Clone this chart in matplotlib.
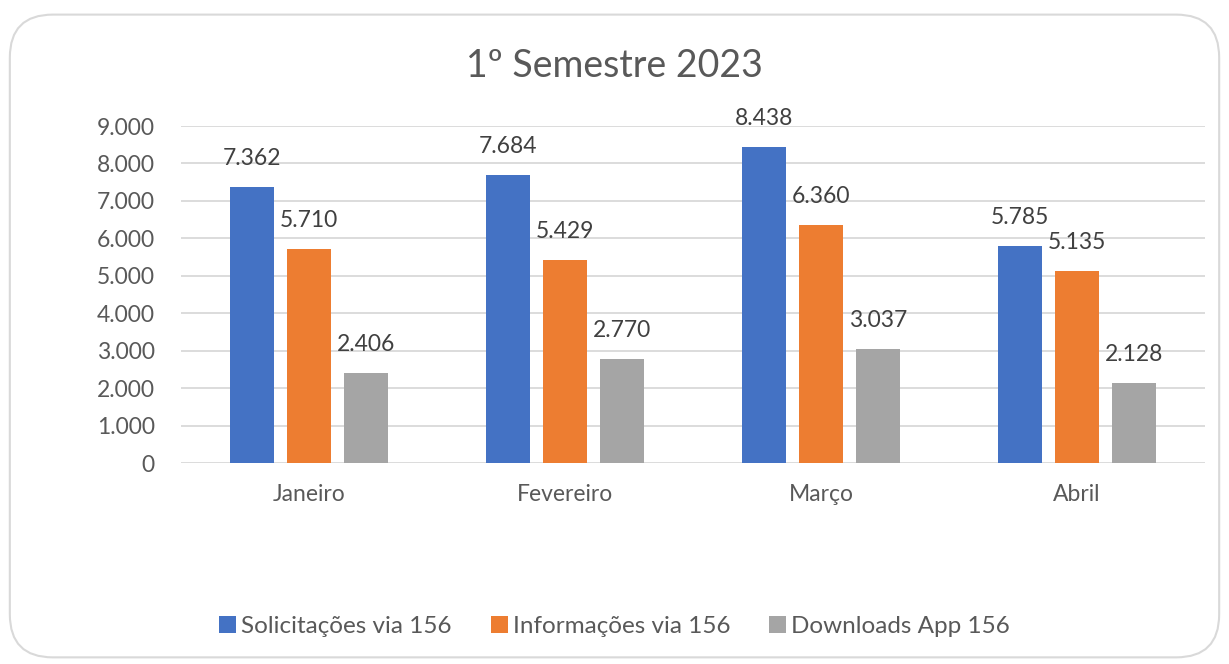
import matplotlib.pyplot as plt
from matplotlib.patches import FancyBboxPatch
import numpy as np

months = ["Janeiro", "Fevereiro", "Março", "Abril"]
solicitacoes = [7362, 7684, 8438, 5785]
informacoes = [5710, 5429, 6360, 5135]
downloads = [2406, 2770, 3037, 2128]
series_names = ["Solicitações via 156", "Informações via 156", "Downloads App 156"]
colors = ["#4472C4", "#ED7D31", "#A5A5A5"]

plt.rcParams['font.family'] = ['Lato', 'DejaVu Sans']
text_color = "#595959"

fig = plt.figure(figsize=(12.29, 6.64), dpi=100)

# rounded chart border
border = FancyBboxPatch((0.008, 0.01), 0.984, 0.968,
                        boxstyle="round,pad=0,rounding_size=0.035",
                        transform=fig.transFigure, facecolor="white",
                        edgecolor="#D9D9D9", linewidth=1.5,
                        mutation_aspect=1229 / 664, zorder=-10)
fig.patches.append(border)

ax = fig.add_axes([0.1473, 0.3027, 0.833, 0.5075])
ax.patch.set_alpha(0)

xpos = np.arange(len(months))
barWidth = 0.172
step = 0.222

all_series = [solicitacoes, informacoes, downloads]
for i, vals in enumerate(all_series):
    offs = (i - 1) * step
    bars = ax.bar(xpos + offs, vals, width=barWidth, color=colors[i],
                  label=series_names[i], zorder=3)
    for b, v in zip(bars, vals):
        ax.annotate(f"{v:,}".replace(",", "."),
                    (b.get_x() + b.get_width() / 2, v),
                    xytext=(0, 13), textcoords="offset points",
                    ha="center", va="bottom", fontsize=16.5, color="#404040")

ax.set_xlim(-0.5, len(months) - 0.5)
ax.set_ylim(0, 9000)
ax.set_yticks(range(0, 9001, 1000))
ax.set_yticklabels([f"{t:,}".replace(",", ".") for t in range(0, 9001, 1000)])
ax.set_xticks(xpos)
ax.set_xticklabels(months)
ax.tick_params(axis="both", length=0, labelsize=16.5, labelcolor=text_color)
ax.tick_params(axis="y", pad=19)
ax.tick_params(axis="x", pad=15)
ax.grid(axis="y", color="#D9D9D9", linewidth=1.3, zorder=0)
for s in ax.spines.values():
    s.set_visible(False)

fig.text(0.5, 0.9, "1º Semestre 2023", ha="center", va="center",
         fontsize=27, color=text_color)

leg = fig.legend(loc="center", bbox_to_anchor=(0.5, 0.057), ncol=3,
                 frameon=False, fontsize=17.5, handlelength=0.7, handleheight=0.7,
                 handletextpad=0.2, columnspacing=1.6)
for t in leg.get_texts():
    t.set_color(text_color)

fig.savefig("out.png", dpi=100)
